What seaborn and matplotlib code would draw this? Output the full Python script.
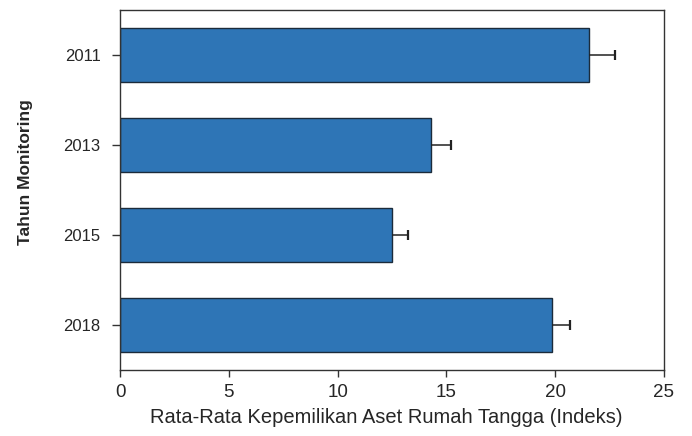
import matplotlib
matplotlib.use("Agg")
import matplotlib.pyplot as plt
import seaborn as sns
import pandas as pd
import numpy as np

years = ["2011", "2013", "2015", "2018"]
means = [21.55, 14.27, 12.52, 19.84]
errors = [1.20, 0.95, 0.70, 0.86]
xticks = [0, 5, 10, 15, 20, 25]

sns.set_theme(style="ticks")
plt.rcParams['font.family'] = ['Liberation Sans', 'DejaVu Sans']

df = pd.DataFrame({"year": years, "mean": means})

fig = plt.figure(figsize=(6.92, 4.36), dpi=100)
ax = fig.add_axes([120/692, 66/436, 544/692, 360/436])

sns.barplot(data=df, y="year", x="mean", order=years, orient="h",
            color="#2E75B6", saturation=1, width=0.6,
            edgecolor="#1b2b3b", linewidth=1.0, errorbar=None, ax=ax)

ypos = np.arange(len(years))
eb = ax.errorbar(means, ypos, xerr=[np.zeros(len(errors)), errors], fmt="none",
                 ecolor="#222222", elinewidth=1.1, capsize=3.6, capthick=1.6)
# only keep the cap on the positive side
caps = eb[1]
if len(caps) >= 2:
    caps[0].set_visible(False)

ax.set_xlim(0, 25)
ax.set_ylim(3.5, -0.5)
ax.set_xticks(xticks)
ax.set_xticklabels([str(t) for t in xticks], fontsize=13.5)
ax.tick_params(axis="y", labelsize=12, length=6, width=1, color="#333333", pad=8)
ax.tick_params(axis="x", length=5, width=1, color="#333333", pad=5)
for s in ax.spines.values():
    s.set_color("#333333")
    s.set_linewidth(1.0)
ax.set_xlabel("Rata-Rata Kepemilikan Aset Rumah Tangga (Indeks)", fontsize=14.5, labelpad=5)
ax.xaxis.label.set_x(0.49)
ax.set_ylabel("Tahun Monitoring", fontsize=12.5, fontweight="bold")
ax.yaxis.set_label_coords(-0.16, 0.55)

fig.savefig("out.png", dpi=100)
